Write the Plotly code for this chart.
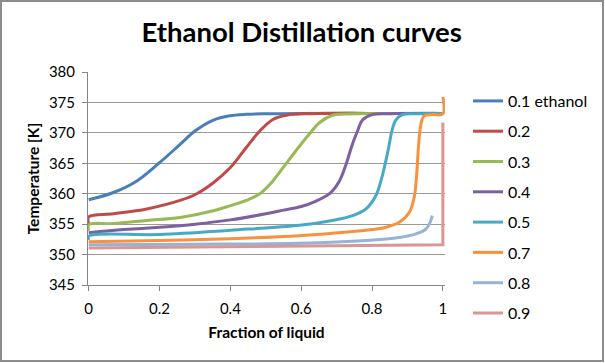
import plotly.graph_objects as go

# ---- data ----
names = ["0.1 ethanol", "0.2", "0.3", "0.4", "0.5", "0.7", "0.8", "0.9"]
colors = ["#4A7EBB", "#BE4B48", "#98B954", "#7D60A0", "#46AAC5", "#F69240", "#95B3D7", "#D99694"]

x01 = [0, 0.07, 0.136, 0.2, 0.258, 0.3, 0.352, 0.398, 0.445, 0.5, 0.6, 0.8, 1.0]
y01 = [359.0, 360.2, 362.1, 365.1, 368.1, 370.3, 372.1, 372.8, 373.05, 373.15, 373.2, 373.2, 373.2]

x02 = [0, 0, 0.07, 0.164, 0.258, 0.305, 0.352, 0.4, 0.445, 0.483, 0.52, 0.558, 0.63, 0.8, 1.0]
y02 = [355.0, 356.2, 356.7, 357.5, 358.9, 360.0, 361.8, 364.3, 367.6, 370.3, 372.2, 372.9, 373.15, 373.2, 373.2]

x03 = [0, 0, 0.07, 0.164, 0.258, 0.352, 0.398, 0.445, 0.483, 0.52, 0.558, 0.595, 0.623, 0.652, 0.688, 0.72, 0.85, 1.0]
y03 = [353.9, 354.9, 355.1, 355.6, 356.1, 357.2, 358.0, 358.9, 360.0, 362.1, 365.0, 367.8, 369.8, 371.7, 372.9, 373.1, 373.2, 373.2]

x04 = [0, 0.1, 0.2, 0.3, 0.4, 0.5, 0.55, 0.6, 0.642, 0.68, 0.708, 0.727, 0.745, 0.759, 0.773, 0.8, 0.85, 1.0]
y04 = [353.6, 354.1, 354.5, 355.0, 355.7, 356.7, 357.3, 357.9, 358.8, 360.0, 362.1, 364.9, 368.2, 370.3, 372.1, 373.0, 373.15, 373.2]

x05 = [0, 0, 0.2, 0.4, 0.595, 0.688, 0.745, 0.783, 0.811, 0.825, 0.837, 0.847, 0.856, 0.867, 0.886, 0.93, 1.0]
y05 = [352.4, 353.0, 353.3, 354.0, 354.8, 355.6, 356.4, 357.5, 359.7, 362.1, 364.9, 367.6, 370.3, 372.1, 373.0, 373.15, 373.2]

x07 = [0, 0.2, 0.4, 0.595, 0.688, 0.783, 0.84, 0.877, 0.905, 0.919, 0.926, 0.931, 0.938, 0.947, 0.97, 1.0, 1.0]
y07 = [352.1, 352.3, 352.6, 353.1, 353.5, 354.0, 354.5, 355.3, 356.9, 359.4, 363.2, 367.6, 371.4, 372.8, 373.0, 373.1, 375.9]

x08 = [0, 0.3, 0.595, 0.783, 0.877, 0.924, 0.952, 0.964, 0.97]
y08 = [351.6, 351.7, 351.85, 352.3, 352.8, 353.4, 354.2, 355.3, 356.4]

x09 = [0, 0.5, 0.9, 1.0, 1.0]
y09 = [351.1, 351.3, 351.5, 351.6, 371.7]

xs = [x01, x02, x03, x04, x05, x07, x08, x09]
ys = [y01, y02, y03, y04, y05, y07, y08, y09]
shapes_line = ["spline"] * 7 + ["linear"]

y_ticks = [345, 350, 355, 360, 365, 370, 375, 380]
x_ticks = [0, 0.2, 0.4, 0.6, 0.8, 1]
x_ticklabels = ["0", "0.2", "0.4", "0.6", "0.8", "1"]

FONT = "Lato"
fig = go.Figure()
for i, (nm, c, xv, yv, sh) in enumerate(zip(names, colors, xs, ys, shapes_line)):
    fig.add_trace(go.Scatter(x=xv, y=yv, mode="lines", name=nm, legendgroup=f"g{i}",
                             line=dict(color=c, width=3, shape=sh, smoothing=1.0)))

fig.update_layout(
    width=605, height=363,
    margin=dict(l=88, r=160, t=72, b=78, autoexpand=False),
    paper_bgcolor="white", plot_bgcolor="white",
    font=dict(family=FONT, size=15, color="#000000"),
    title=dict(text="<b>Ethanol Distillation curves</b>", x=(301.7) / 605, xanchor="center",
               y=1 - 32 / 363, yanchor="middle", font=dict(family=FONT, size=27.5, color="#000")),
    showlegend=True,
    legend=dict(x=(468 - 88) / 357, xanchor="left", y=1 - 12 / 213, yanchor="top",
                tracegroupgap=6.5, font=dict(family=FONT, size=16, color="#000"),
                bgcolor="rgba(0,0,0,0)", maxheight=330),
    xaxis=dict(range=[-0.002, 1.006], tickvals=x_ticks, ticktext=x_ticklabels, showgrid=False, automargin=False,
               showline=True, linecolor="#868686", linewidth=1, ticks="outside", ticklen=5,
               tickcolor="#868686", zeroline=False, ticklabelstandoff=5,
               title=dict(text="<b>Fraction of liquid</b>", font=dict(family=FONT, size=15.5), standoff=11)),
    yaxis=dict(range=[345, 380], tickvals=y_ticks, showgrid=True, gridcolor="#9a9a9a", gridwidth=1,
               showline=True, linecolor="#868686", linewidth=1, ticks="outside", ticklen=5,
               tickcolor="#868686", zeroline=False, automargin=False, ticklabelstandoff=4,
               title=dict(text="<b>Temperature [K]</b>", font=dict(family=FONT, size=15.5), standoff=5)),
    shapes=[dict(type="rect", xref="paper", yref="paper", x0=-87 / 357, x1=(603 - 88) / 357,
                 y0=-(361 - 285) / 213, y1=1 + 71 / 213, line=dict(color="#8c8c8c", width=2),
                 fillcolor="rgba(0,0,0,0)", layer="above")],
)

fig.write_html("out.html", config={"displayModeBar": False},
               post_script="document.body.style.margin='0px';")
